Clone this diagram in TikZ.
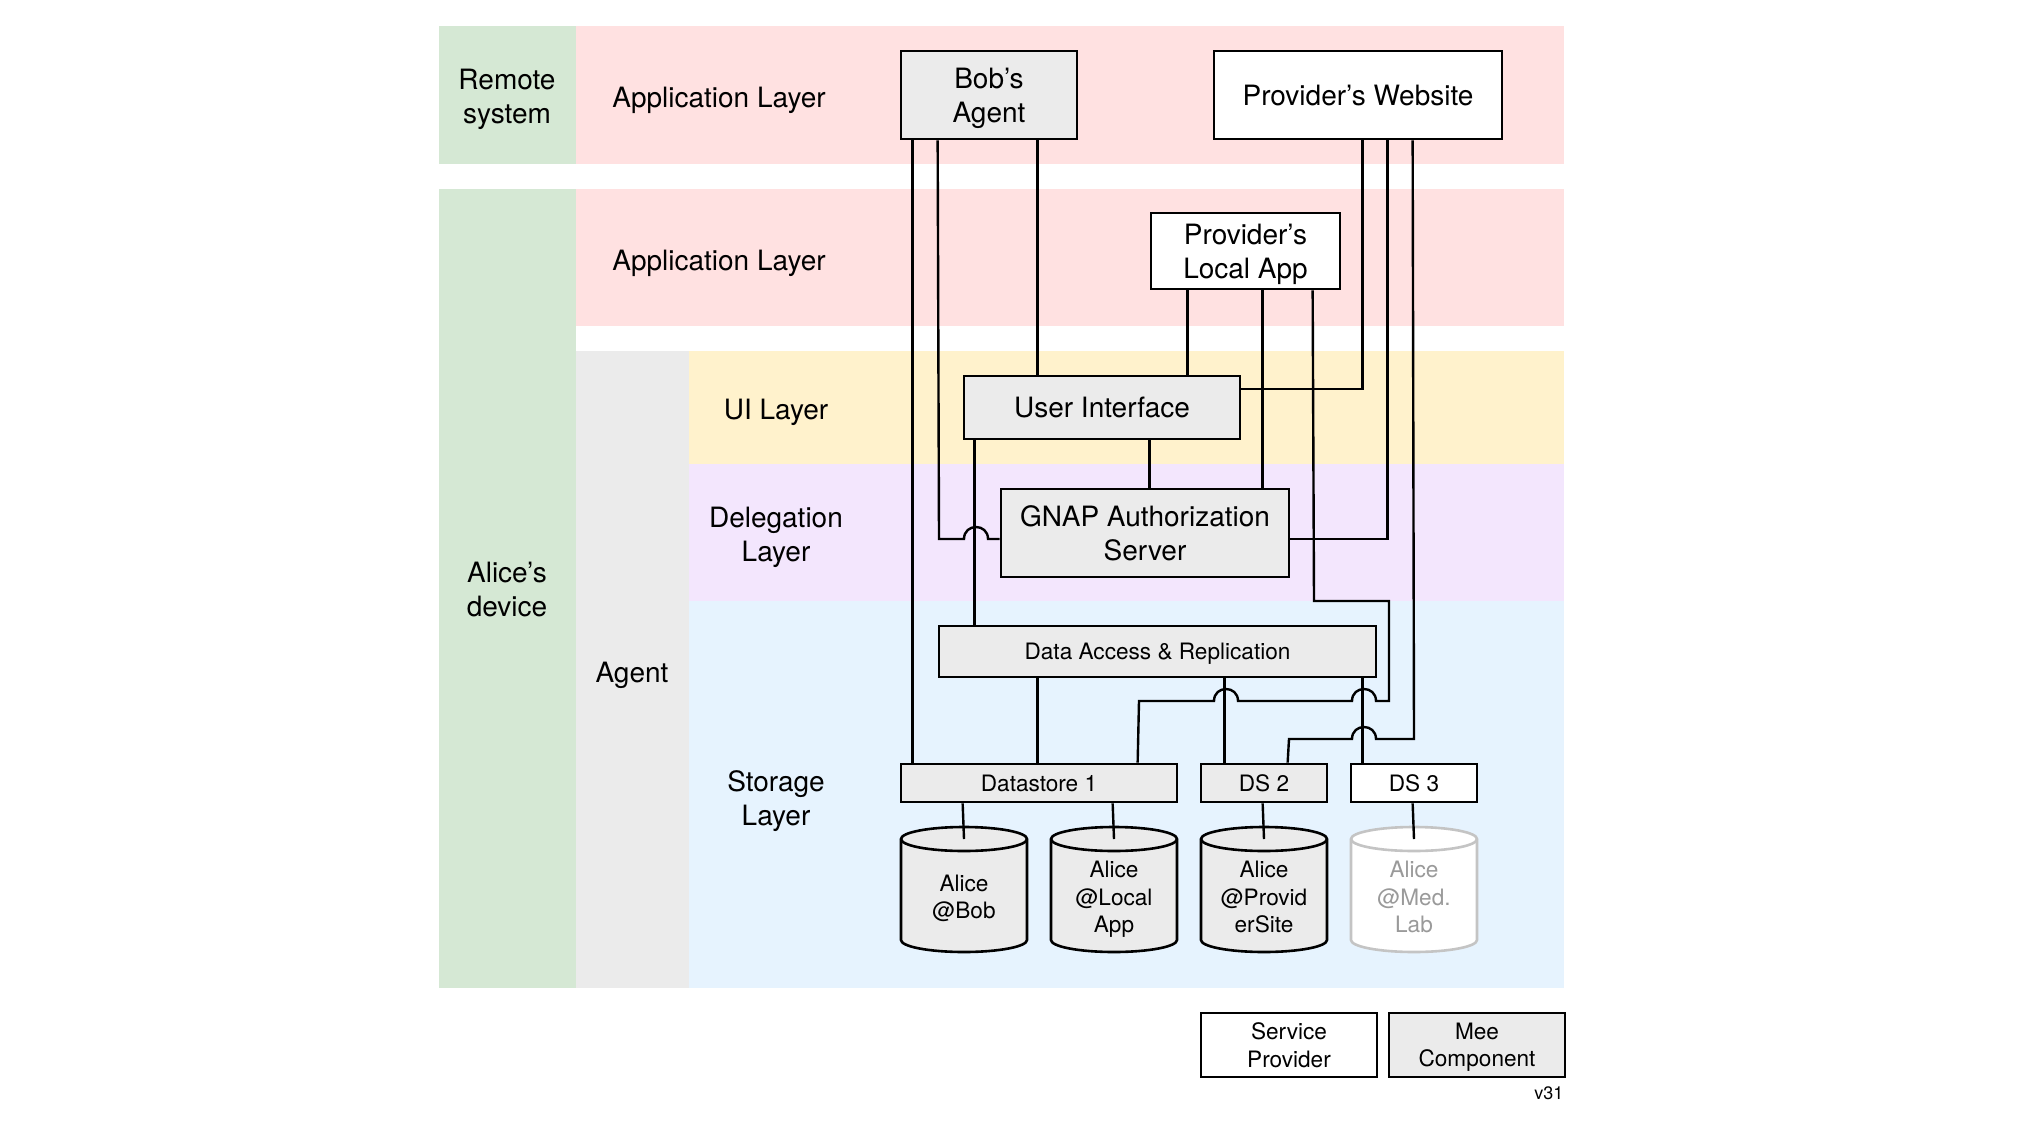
\documentclass[tikz,border=0pt]{standalone}
\usepackage{fontspec}
\setmainfont{TeX Gyre Heros}
\definecolor{cgreen}{HTML}{D5E8D4}
\definecolor{cpink}{HTML}{FFE1E1}
\definecolor{cyellow}{HTML}{FFF2CC}
\definecolor{cpurple}{HTML}{F3E6FD}
\definecolor{cblue}{HTML}{E6F3FE}
\definecolor{cgray}{HTML}{EBEBEB}
\definecolor{cfaint}{HTML}{C4C4C4}
\definecolor{cfainttext}{HTML}{9A9A9A}
\newcommand\myhop[2]{-- (#1-12,#2) .. controls (#1-12,#2-16) and (#1+12,#2-16) .. (#1+12,#2)}
\newcommand\mycyl[3]{%
  \filldraw[fill=#2, draw=#3, line width=2.6pt] (#1-63,940) arc[start angle=180, end angle=360, x radius=63pt, y radius=12pt] -- (#1+63,839) arc[start angle=0, end angle=180, x radius=63pt, y radius=12pt] -- cycle;
  \draw[draw=#3, line width=2.6pt] (#1-63,839) arc[start angle=180, end angle=360, x radius=63pt, y radius=12pt];}
\tikzset{
  box/.style={draw, line width=2.7pt, inner sep=0pt, align=center},
  mee/.style={box, fill=cgray},
  prov/.style={box, fill=white},
  big/.style={font=\fontsize{28}{34}\selectfont, text depth=0pt},
  small/.style={font=\fontsize{22.6}{27.5}\selectfont, text depth=0pt},
  conn/.style={line width=2.4pt},
  lbl/.style={big, align=center}
}
\begin{document}
\begin{tikzpicture}[x=1pt,y=-1pt]
\useasboundingbox (0,0) rectangle (2038,1127);
\fill[white] (0,0) rectangle (2038,1127);
% bands
\fill[cgreen] (439,26) rectangle (576,164);
\fill[cpink] (576,26) rectangle (1564,164);
\fill[cgreen] (439,189) rectangle (576,988);
\fill[cpink] (576,189) rectangle (1564,326);
\fill[cgray] (576,351) rectangle (689,988);
\fill[cyellow] (689,351) rectangle (1564,464);
\fill[cpurple] (689,464) rectangle (1564,601);
\fill[cblue] (689,601) rectangle (1564,988);
% band labels
\node[lbl] (remote) at (507,96) {Remote\\system};
\node[lbl] (app1) at (719,97) {Application Layer};
\node[lbl] (app2) at (719,260) {Application Layer};
\node[lbl] (alice) at (507,589) {Alice's\\device};
\node[lbl] (agent) at (632,672) {Agent};
\node[lbl] (uil) at (776,409) {UI Layer};
\node[lbl] (del) at (776,534) {Delegation\\Layer};
\node[lbl] (sto) at (776,798) {Storage\\Layer};
% boxes
\node[mee, big, minimum width=176, minimum height=88] (bob) at (989,95) {Bob's\\Agent};
\node[prov, big, minimum width=288, minimum height=88] (web) at (1358,95) {Provider's Website};
\node[prov, big, minimum width=189, minimum height=76] (local) at (1245.5,251) {Provider's\\Local App};
\node[mee, big, minimum width=276, minimum height=63] (ui) at (1102,407.5) {User Interface};
\node[mee, big, minimum width=288, minimum height=88] (gnap) at (1145,533) {GNAP Authorization\\Server};
\node[mee, small, minimum width=437, minimum height=51] (da) at (1157.5,651.5) {Data Access \& Replication};
\node[mee, small, minimum width=276, minimum height=38] (ds1) at (1039,783) {Datastore 1};
\node[mee, small, minimum width=126, minimum height=38] (ds2) at (1264,783) {DS 2};
\node[prov, small, minimum width=126, minimum height=38] (ds3) at (1414,783) {DS 3};
% cylinders
\mycyl{964}{cgray}{black}
\mycyl{1114}{cgray}{black}
\mycyl{1264}{cgray}{black}
\mycyl{1414}{white}{cfaint}
\coordinate (cyl1top) at (964,839);
\coordinate (cyl2top) at (1114,839);
\coordinate (cyl3top) at (1264,839);
\coordinate (cyl4top) at (1414,839);
\node[small, align=center] (cyl1) at (964,897) {Alice\\@Bob};
\node[small, align=center] (cyl2) at (1114,897) {Alice\\@Local\\App};
\node[small, align=center] (cyl3) at (1264,897) {Alice\\@Provid\\erSite};
\node[small, align=center, text=cfainttext] (cyl4) at (1414,897) {Alice\\@Med.\\Lab};
% connectors
\draw[conn] ([xshift=13pt]bob.south west) -- ([xshift=13pt]ds1.north west);
\draw[conn] ([xshift=38pt]bob.south west) -- (939,539) \myhop{976}{539} -- ([yshift=-6pt]gnap.west);
\draw[conn] ([xshift=138pt]bob.south west) -- ([xshift=75pt]ui.north west);
\draw[conn] ([xshift=38pt]local.south west) -- ([xshift=225pt]ui.north west);
\draw[conn] ([xshift=113pt]local.south west) -- ([xshift=263pt]gnap.north west);
\draw[conn] ([xshift=238pt]ds1.north west) -- (1139,701) \myhop{1226}{701} \myhop{1364}{701} -- (1389,701) -- (1389,601) -- (1314,601) -- ([xshift=163pt]local.south west);
\draw[conn] ([xshift=150pt]web.south west) |- ([yshift=18.5pt]ui.east);
\draw[conn] ([xshift=175pt]web.south west) |- ([yshift=-6pt]gnap.east);
\draw[conn] ([xshift=88pt]ds2.north west) -- (1289,739) \myhop{1364}{739} -- (1414,739) -- ([xshift=200pt]web.south west);
\draw[conn] ([xshift=12pt]ui.south west) -- ([xshift=37pt]da.north west);
\draw[conn] ([xshift=187pt]ui.south west) -- ([xshift=150pt]gnap.north west);
\draw[conn] ([xshift=100pt]da.south west) -- ([xshift=138pt]ds1.north west);
\draw[conn] ([xshift=287pt]da.south west) -- ([xshift=25pt]ds2.north west);
\draw[conn] ([xshift=425pt]da.south west) -- ([xshift=13pt]ds3.north west);
\draw[conn] ([xshift=63pt]ds1.south west) -- (cyl1top);
\draw[conn] ([xshift=213pt]ds1.south west) -- (cyl2top);
\draw[conn] ([xshift=63pt]ds2.south west) -- (cyl3top);
\draw[conn] ([xshift=63pt]ds3.south west) -- (cyl4top);
% legend
\node[prov, small, minimum width=176, minimum height=64] (sp) at (1289,1045) {Service\\Provider};
\node[mee, small, minimum width=176, minimum height=64] (meec) at (1477,1045) {Mee\\Component};
\node[font=\fontsize{18}{20}\selectfont, text depth=0pt, anchor=east] (ver) at (1567,1093) {v31};
\end{tikzpicture}
\end{document}
